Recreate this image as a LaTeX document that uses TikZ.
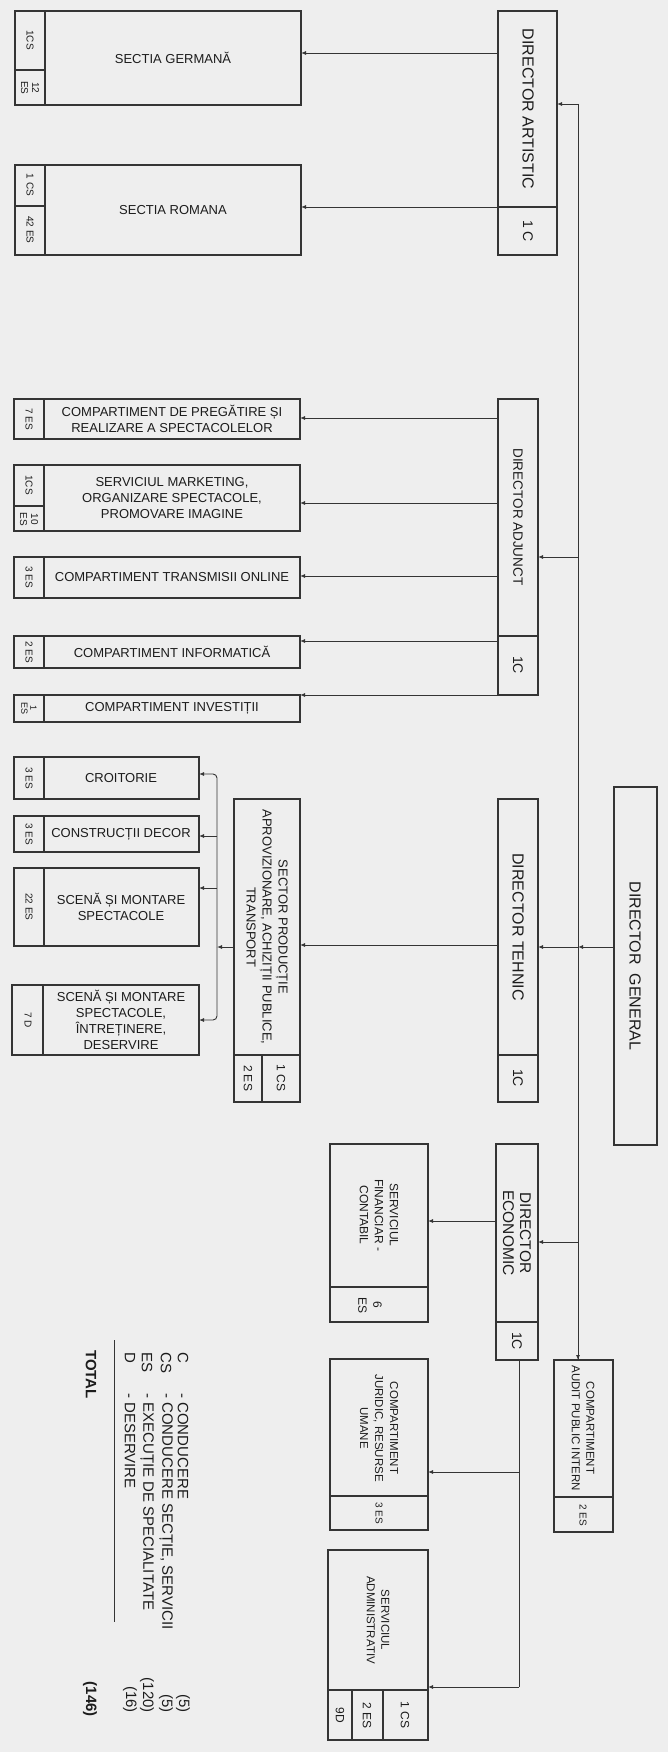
\documentclass[tikz,border=0pt]{standalone}
\usepackage{fontspec}
\setmainfont{Liberation Sans}
\usetikzlibrary{arrows.meta,fit}
\definecolor{bg}{RGB}{238,238,238}
\definecolor{ln}{RGB}{52,52,52}
\definecolor{tx}{RGB}{28,28,28}
\newcommand{\bx}[5]{\node[box, fit={(#2,#3) (#4,#5)}] (#1) {};}
\tikzset{
  box/.style={draw=ln, line width=1.1pt, inner sep=0pt, outer sep=0pt},
  dv/.style={draw=ln, line width=1.1pt},
  arr/.style={draw=ln, line width=0.9pt, -{Latex[length=5pt,width=4pt]}},
  cn/.style={draw=ln, line width=0.9pt},
  txt/.style={inner sep=0pt, align=center, text=tx},
  rt/.style={rotate=-90},
  fa/.style={font=\fontsize{13}{16}\selectfont},
  fb/.style={font=\fontsize{12}{15}\selectfont},
  fs/.style={font=\fontsize{10}{11}\selectfont},
  fd/.style={font=\fontsize{16}{18}\selectfont},
  fc/.style={font=\fontsize{14}{16}\selectfont},
  fl/.style={font=\fontsize{15}{17}\selectfont},
}
\begin{document}
\begin{tikzpicture}[x=1pt,y=-1pt]
\fill[bg] (0,0) rectangle (668,1752);
\useasboundingbox (0,0) rectangle (668,1752);

% ---------- DIRECTOR ARTISTIC ----------
\bx{da}{498}{11}{557}{255}
\draw[dv] (498,207) -- (557,207);
\node[txt,fd,rt] (tda) at (528,109) {DIRECTOR ARTISTIC};
\node[txt,fc,rt] (lda) at (528,231) {1 C};

\bx{sg}{15}{11}{301}{105}
\draw[dv] (45,11) -- (45,105) (15,70) -- (45,70);
\node[txt,fa] (tsg) at (173,58) {SECTIA GERMANĂ};
\node[txt,fs,rt] (lsg1) at (30,40) {1CS};
\node[txt,fs,rt] (lsg2) at (30,88) {12\\ES};

\bx{sr}{15}{165}{301}{255}
\draw[dv] (45,165) -- (45,255) (15,206) -- (45,206);
\node[txt,fa] (tsr) at (173,210) {SECTIA ROMANA};
\node[txt,fs,rt] (lsr1) at (30,185) {1 CS};
\node[txt,fs,rt] (lsr2) at (30,230) {42 ES};

\draw[arr] (da.west |- 0,53) -- (sg.east |- 0,53);
\draw[arr] (da.west |- 0,207) -- (sr.east |- 0,207);

% ---------- DIRECTOR ADJUNCT ----------
\bx{dj}{498}{399}{538}{695}
\draw[dv] (498,636) -- (538,636);
\node[txt,font=\fontsize{13.5}{16}\selectfont,rt] (tdj) at (518,517) {DIRECTOR ADJUNCT};
\node[txt,fc,rt] (ldj) at (518,665) {1C};

\bx{pr}{14}{399}{300}{439}
\draw[dv] (44,399) -- (44,439);
\node[txt,fa] (tpr) at (172,419) {COMPARTIMENT DE PREGĂTIRE ȘI\\REALIZARE A SPECTACOLELOR};
\node[txt,fs,rt] (lpr) at (29,419) {7 ES};

\bx{mk}{14}{465}{300}{531}
\draw[dv] (44,465) -- (44,531) (14,506) -- (44,506);
\node[txt,fa] (tmk) at (172,498) {SERVICIUL MARKETING,\\ORGANIZARE SPECTACOLE,\\PROMOVARE IMAGINE};
\node[txt,fs,rt] (lmk1) at (29,485) {1CS};
\node[txt,fs,rt] (lmk2) at (29,519) {10\\ES};

\bx{tr}{14}{557}{300}{598}
\draw[dv] (44,557) -- (44,598);
\node[txt,fa] (ttr) at (172,577) {COMPARTIMENT TRANSMISII ONLINE};
\node[txt,fs,rt] (ltr) at (29,577) {3 ES};

\bx{inf}{14}{636}{300}{668}
\draw[dv] (44,636) -- (44,668);
\node[txt,fa] (tinf) at (172,652) {COMPARTIMENT INFORMATICĂ};
\node[txt,fs,rt] (linf) at (29,652) {2 ES};

\bx{inv}{14}{695}{300}{722}
\draw[dv] (44,695) -- (44,722);
\node[txt,fa] (tinv) at (172,708) {COMPARTIMENT INVESTIȚII};
\node[txt,font=\fontsize{9}{9}\selectfont,rt] (linv) at (29,708) {1\\ES};

\draw[arr] (dj.west |- 0,418) -- (pr.east |- 0,418);
\draw[arr] (dj.west |- 0,503) -- (mk.east |- 0,503);
\draw[arr] (dj.west |- 0,576) -- (tr.east |- 0,576);
\draw[arr] (dj.west |- 0,641) -- (inf.east |- 0,641);
\draw[arr] (dj.south west) -- (inv.east |- dj.south west);

% ---------- DIRECTOR TEHNIC ----------
\bx{dt}{498}{799}{538}{1102}
\draw[dv] (498,1055) -- (538,1055);
\node[txt,fd,rt] (tdt) at (518,927) {DIRECTOR TEHNIC};
\node[txt,fc,rt] (ldt) at (518,1078) {1C};

\bx{sec}{234}{799}{300}{1102}
\draw[dv] (234,1055) -- (300,1055) (262,1055) -- (262,1102);
\node[txt,fa,rt] (tsec) at (267,927) {SECTOR PRODUCȚIE\\APROVIZIONARE, ACHIZIȚII PUBLICE,\\TRANSPORT};
\node[txt,fb,rt] (lsec1) at (281,1078) {1 CS};
\node[txt,fb,rt] (lsec2) at (248,1078) {2 ES};

\bx{cro}{14}{757}{199}{799}
\draw[dv] (44,757) -- (44,799);
\node[txt,fa] (tcro) at (121,778) {CROITORIE};
\node[txt,fs,rt] (lcro) at (29,778) {3 ES};

\bx{con}{14}{816}{199}{852}
\draw[dv] (44,816) -- (44,852);
\node[txt,fa] (tcon) at (121,834) {CONSTRUCȚII DECOR};
\node[txt,fs,rt] (lcon) at (29,834) {3 ES};

\bx{scn}{14}{868}{199}{946}
\draw[dv] (44,868) -- (44,946);
\node[txt,fa] (tscn) at (121,907) {SCENĂ ȘI MONTARE\\SPECTACOLE};
\node[txt,fs,rt] (lscn) at (29,907) {22 ES};

\bx{sc2}{12}{985}{199}{1055}
\draw[dv] (43,985) -- (43,1055);
\node[txt,fa] (tsc2) at (121,1020) {SCENĂ ȘI MONTARE\\SPECTACOLE,\\ÎNTREȚINERE,\\DESERVIRE};
\node[txt,fs,rt] (lsc2) at (28,1020) {7 D};

\coordinate (brt) at (217,774);
\coordinate (brb) at (217,1020);
\coordinate (brm) at (217,947);
\draw[arr, rounded corners=4pt] (brm) -- (brt) -- (cro.east |- brt);
\draw[arr, rounded corners=4pt] (brm) -- (brb) -- (sc2.east |- brb);
\draw[arr] (sec.west |- brm) -- (brm);
\draw[arr] (217,836) -- (con.east |- 0,836);
\draw[arr] (217,888) -- (scn.east |- 0,888);
\draw[arr] (dt.west |- 0,945) -- (sec.east |- 0,945);

% ---------- DIRECTOR GENERAL and trunk ----------
\node[draw=ln, line width=1.7pt, inner sep=0pt, fit={(614,787) (657,1145)}] (dg) {};
\node[txt,fd,rt] (tdg) at (635,966) {DIRECTOR\ \ GENERAL};

\coordinate (tt) at (578,104);
\coordinate (tg) at (578,947);

% ---------- DIRECTOR ECONOMIC ----------
\bx{de}{496}{1144}{538}{1360}
\draw[dv] (496,1322) -- (538,1322);
\node[txt,font=\fontsize{15.5}{17}\selectfont,rt] (tde) at (517,1233) {DIRECTOR\\ECONOMIC};
\node[txt,fc,rt] (lde) at (517,1341) {1C};

\bx{fin}{330}{1144}{428}{1322}
\draw[dv] (330,1287) -- (428,1287);
\node[txt,fb,rt] (tfin) at (379,1215) {SERVICIUL\\FINANCIAR -\\CONTABIL};
\node[txt,fb,rt] (lfin) at (370,1305) {6\\ES};
\draw[arr] (de.west |- 0,1221) -- (fin.east |- 0,1221);

\bx{aud}{554}{1360}{613}{1532}
\draw[dv] (554,1497) -- (613,1497);
\node[txt,font=\fontsize{11.5}{14.5}\selectfont,rt] (taud) at (583,1428) {COMPARTIMENT\\AUDIT PUBLIC INTERN};
\node[txt,fs,rt] (laud) at (583,1515) {2 ES};

\bx{jur}{330}{1359}{428}{1530}
\draw[dv] (330,1496) -- (428,1496);
\node[txt,font=\fontsize{11.5}{15}\selectfont,rt] (tjur) at (379,1428) {COMPARTIMENT\\JURIDIC, RESURSE\\UMANE};
\node[txt,fs,rt] (ljur) at (379,1513) {3 ES};

\bx{adm}{328}{1550}{428}{1740}
\draw[dv] (328,1690) -- (428,1690) (352,1690) -- (352,1740) (383,1690) -- (383,1740);
\node[txt,font=\fontsize{11.5}{14.5}\selectfont,rt] (tadm) at (378,1620) {SERVICIUL\\ADMINISTRATIV};
\node[txt,fb,rt] (ladm1) at (340,1715) {9D};
\node[txt,fb,rt] (ladm2) at (367,1715) {2 ES};
\node[txt,fb,rt] (ladm3) at (405,1715) {1 CS};

% trunk connectors
\draw[cn] (tt) -- (aud.north -| tt);
\draw[arr] (578,1340) -- (aud.north -| tt);
\draw[arr] (tt) -- (da.east |- tt);
\draw[arr] (tt |- 0,557) -- (dj.east |- 0,557);
\draw[arr] (dg.west |- tg) -- (tg);
\draw[arr] (tg) -- (dt.east |- tg);
\draw[arr] (tt |- 0,1242) -- (de.east |- 0,1242);

% economic branch
\coordinate (eb) at (519,1687);
\draw[cn] (de.south -| eb) -- (eb);
\draw[arr] (eb) -- (adm.east |- eb);
\draw[arr] (eb |- 0,1472) -- (jur.east |- 0,1472);

% ---------- legend ----------
\node[txt,fl,rt,anchor=west] (k1) at (183,1352) {C};
\node[txt,fl,rt,anchor=west] (k2) at (166,1352) {CS};
\node[txt,fl,rt,anchor=west] (k3) at (147,1352) {ES};
\node[txt,fl,rt,anchor=west] (k4) at (130,1352) {D};
\node[txt,fl,rt,anchor=west] (d1) at (183,1393) {- CONDUCERE};
\node[txt,fl,rt,anchor=west] (d2) at (166,1393) {- CONDUCERE SECȚIE, SERVICII};
\node[txt,fl,rt,anchor=west] (d3) at (147,1393) {- EXECUȚIE DE SPECIALITATE};
\node[txt,fl,rt,anchor=west] (d4) at (130,1393) {- DESERVIRE};
\node[txt,fl,rt,anchor=east] (n1) at (183,1713) {(5)};
\node[txt,fl,rt,anchor=east] (n2) at (166,1713) {(5)};
\node[txt,fl,rt,anchor=east] (n3) at (147,1713) {(120)};
\node[txt,fl,rt,anchor=east] (n4) at (130,1713) {(16)};
\draw[cn] (114,1340) -- (114,1622);
\node[txt,rt,anchor=west,font=\fontsize{15}{17}\selectfont\bfseries] (tot) at (91,1350) {TOTAL};
\node[txt,rt,anchor=east,font=\fontsize{15}{17}\selectfont\bfseries] (ntot) at (90,1717) {(146)};
\end{tikzpicture}
\end{document}
